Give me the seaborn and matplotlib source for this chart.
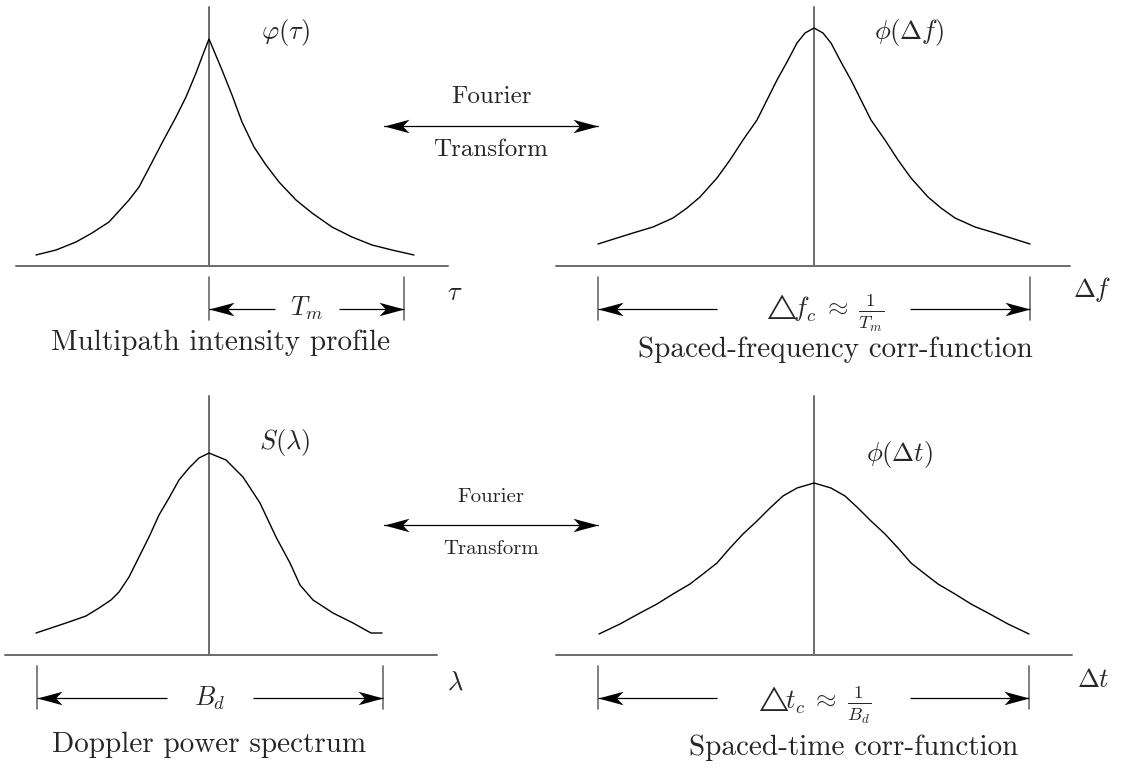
import numpy as np
import matplotlib
matplotlib.use("Agg")
import matplotlib.pyplot as plt
from matplotlib.path import Path
import seaborn as sns

sns.set_theme(style="white")
plt.rcParams["font.family"] = ["cmr10", "DejaVu Serif"]
plt.rcParams["mathtext.fontset"] = "cm"
plt.rcParams["axes.unicode_minus"] = False

# ---- curves: (offset from origin, height above the baseline) ----
mip_delay = [-173, -153, -133, -117, -100, -80, -70, -60, -47, -33, -23, -13, -7, 0,
             13, 23, 33, 45, 57, 70, 87, 103, 123, 143, 163, 183, 205]
mip_power = [11, 16, 24, 33, 44, 66, 79, 98, 123, 149, 169, 193, 209, 227,
             196, 171, 144, 119, 101, 84, 66, 53, 39, 29, 21, 16, 11]

sfc_df = [-216, -197, -181, -161, -141, -127, -114, -97, -84, -71, -57, -47, -37, -27, -17, -9, 0,
          9, 17, 27, 37, 47, 57, 71, 84, 97, 114, 127, 141, 161, 181, 197, 216]
sfc_val = [22, 28, 33, 39, 48, 58, 69, 88, 106, 126, 146, 166, 186, 204, 223, 233, 238,
           233, 223, 204, 186, 166, 146, 126, 106, 88, 69, 58, 48, 39, 33, 28, 22]

dop_lam = [-173, -143, -123, -110, -98, -90, -80, -70, -60, -50, -40, -30, -20, -10, 0,
           17, 34, 51, 67, 81, 91, 104, 124, 144, 162, 173]
dop_S = [22, 32, 39, 47, 55, 63, 78, 98, 118, 140, 157, 175, 187, 197, 202,
         195, 178, 152, 118, 92, 70, 55, 42, 32, 22, 22]

stc_dt = [-215, -194, -174, -157, -141, -124, -111, -97, -84, -71, -57, -44, -31, -17, 0,
          17, 31, 44, 57, 71, 84, 97, 111, 124, 141, 157, 174, 194, 215]
stc_val = [21, 31, 42, 51, 61, 71, 81, 92, 107, 121, 134, 147, 159, 167, 172,
           167, 159, 147, 134, 121, 107, 92, 81, 71, 61, 51, 42, 31, 21]

W, H = 1126, 771
fig = plt.figure(figsize=(W / 100, H / 100), dpi=100)
fig.patch.set_facecolor("white")

AXIS_GRAY = "#6b6b6b"
INK = "black"

# stealth-style arrowhead pointing in +x, tip at the origin
_head_r = Path([(0, 0), (-1, 0.27), (-0.74, 0), (-1, -0.27), (0, 0)],
               [Path.MOVETO, Path.LINETO, Path.LINETO, Path.LINETO, Path.CLOSEPOLY])
_head_l = Path([(0, 0), (1, 0.27), (0.74, 0), (1, -0.27), (0, 0)],
               [Path.MOVETO, Path.LINETO, Path.LINETO, Path.LINETO, Path.CLOSEPOLY])
HEAD = 36


def panel(ox, oy):
    """Transparent axes spanning the figure; data units are pixels measured
    from the panel origin (ox, oy), with y pointing up."""
    ax = fig.add_axes([0, 0, 1, 1])
    ax.set_xlim(-ox, W - ox)
    ax.set_ylim(oy - H, oy)
    ax.axis("off")
    ax.patch.set_alpha(0)
    return ax


def arrow(ax, x0, x1, y, size=HEAD):
    ax.plot([x0, x1], [y, y], color=INK, lw=0.9, solid_capstyle="butt")
    head = _head_r if x1 > x0 else _head_l
    ax.plot([x1], [y], marker=head, markersize=size, color=INK,
            markeredgewidth=0)


def double_arrow(ax, x0, x1, y, size=HEAD):
    ax.plot([x0, x1], [y, y], color=INK, lw=0.9)
    ax.plot([x0], [y], marker=_head_l, markersize=size, color=INK, markeredgewidth=0)
    ax.plot([x1], [y], marker=_head_r, markersize=size, color=INK, markeredgewidth=0)


def axes_cross(ax, xl, xr, ytop):
    ax.plot([xl, xr], [0, 0], color=AXIS_GRAY, lw=1.4)
    ax.plot([0, 0], [0, ytop], color=AXIS_GRAY, lw=1.4)


def bracket(ax, xl, xr, inner_l, inner_r, y_top=-11, y_bot=-54, y_arr=-43):
    for xv in (xl, xr):
        ax.plot([xv, xv], [y_top, y_bot], color=AXIS_GRAY, lw=1.2)
    arrow(ax, inner_l, xl, y_arr)
    arrow(ax, inner_r, xr, y_arr)


def curve(ax, xs, ys):
    sns.lineplot(x=xs, y=ys, ax=ax, color=INK, lw=1.0, sort=False,
                 estimator=None, solid_joinstyle="round",
                 solid_capstyle="round")


TITLE_FS = 21
MATH_FS = 19

# ---- top left: multipath intensity profile ----
ax1 = panel(209, 266)
axes_cross(ax1, -193, 239, 259)
curve(ax1, mip_delay, mip_power)
ax1.text(76, 233, r"$\varphi(\tau)$", fontsize=MATH_FS, ha="center", va="center")
ax1.text(246, -27, r"$\tau$", fontsize=MATH_FS, ha="center", va="center")
bracket(ax1, 0, 195, 66, 130)
ax1.text(98, -42, r"$T_m$", fontsize=MATH_FS, ha="center", va="center")
ax1.text(12, -77, "Multipath intensity profile", fontsize=TITLE_FS,
         ha="center", va="center")
double_arrow(ax1, 175, 389, 140)
ax1.text(282, 169, "Fourier", fontsize=18, ha="center", va="center")
ax1.text(282, 116, "Transform", fontsize=18, ha="center", va="center")

# ---- top right: spaced-frequency correlation function ----
ax2 = panel(814, 266)
axes_cross(ax2, -258, 256, 259)
curve(ax2, sfc_df, sfc_val)
ax2.text(95, 233, r"$\phi(\Delta f)$", fontsize=MATH_FS, ha="center", va="center")
ax2.text(278, -24, r"$\Delta f$", fontsize=MATH_FS, ha="center", va="center")
bracket(ax2, -216, 216, -97, 96)
ax2.text(9, -47, r"$\triangle\!\!f_c \;\approx\; \frac{1}{T_m}$", fontsize=MATH_FS,
         ha="center", va="center")
ax2.text(21, -84, "Spaced-frequency corr-function", fontsize=TITLE_FS,
         ha="center", va="center")

# ---- bottom left: Doppler power spectrum ----
ax3 = panel(209, 655)
axes_cross(ax3, -204, 228, 259)
curve(ax3, dop_lam, dop_S)
ax3.text(76, 212, r"$S(\lambda)$", fontsize=MATH_FS, ha="center", va="center")
ax3.text(246, -28, r"$\lambda$", fontsize=MATH_FS, ha="center", va="center")
bracket(ax3, -172, 174, -42, 44)
ax3.text(1, -43, r"$B_d$", fontsize=MATH_FS, ha="center", va="center")
ax3.text(0, -90, "Doppler power spectrum", fontsize=TITLE_FS,
         ha="center", va="center")
double_arrow(ax3, 175, 389, 130)
ax3.text(282, 158, "Fourier", fontsize=15, ha="center", va="center")
ax3.text(282, 106, "Transform", fontsize=15, ha="center", va="center")

# ---- bottom right: spaced-time correlation function ----
ax4 = panel(814, 655)
axes_cross(ax4, -258, 258, 259)
curve(ax4, stc_dt, stc_val)
ax4.text(86, 200, r"$\phi(\Delta t)$", fontsize=MATH_FS, ha="center", va="center")
ax4.text(279, -25, r"$\Delta t$", fontsize=MATH_FS, ha="center", va="center")
bracket(ax4, -216, 215, -97, 96)
ax4.text(-1, -50, r"$\triangle\!\!t_c \;\approx\; \frac{1}{B_d}$", fontsize=MATH_FS,
         ha="center", va="center")
ax4.text(40, -93, "Spaced-time corr-function", fontsize=TITLE_FS,
         ha="center", va="center")

fig.savefig("out.png", dpi=100, facecolor="white")
